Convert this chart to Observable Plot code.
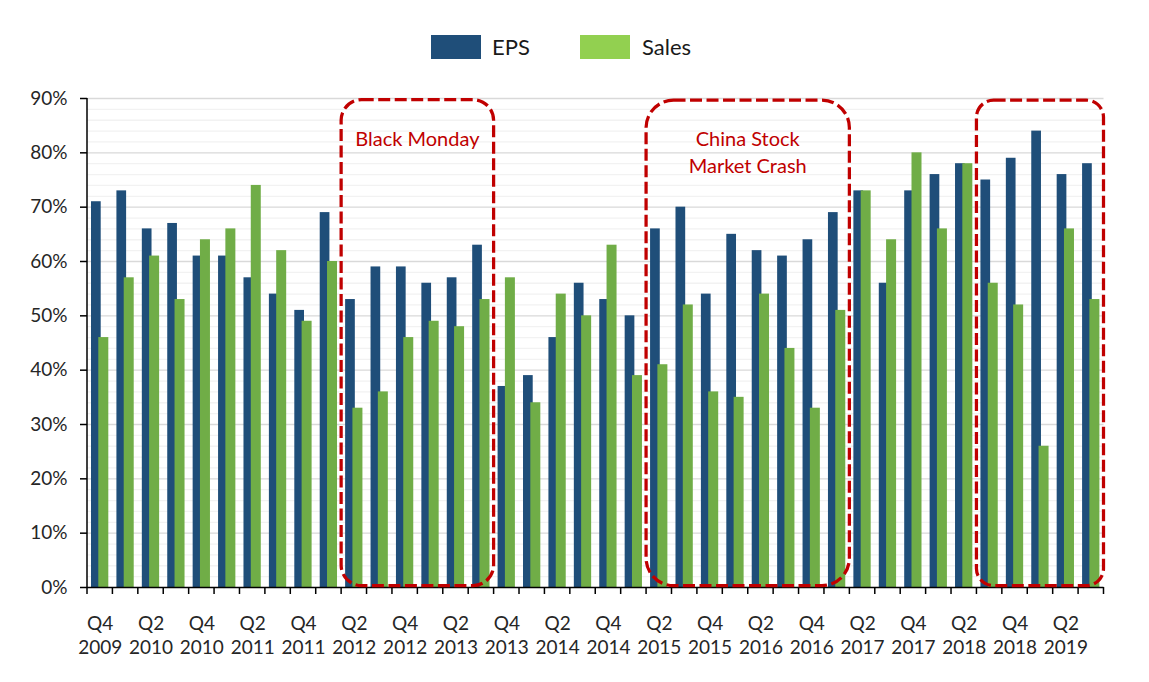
<!DOCTYPE html>
<html>
<head>
<meta charset="utf-8">
<script src="https://cdn.jsdelivr.net/npm/d3@7"></script>
<script src="https://cdn.jsdelivr.net/npm/@observablehq/plot@0.6"></script>
<style>
  html, body { margin: 0; padding: 0; background: #fff; }
  body { font-family: Lato, "Open Sans", sans-serif; width: 1149px; }
  #legend { position: relative; height: 80px; }
  #legend .sw { position: absolute; top: 35px; width: 50px; height: 24px; }
  #legend .lb { position: absolute; top: 34.5px; font-size: 22px; line-height: 24px; color: #1a1a1a; }
  #chart svg { display: block; }
</style>
</head>
<body>
<div id="legend"></div>
<div id="chart"></div>
<script>
// ---- data ----
const quarters = [
  "Q4 2009","Q1 2010","Q2 2010","Q3 2010","Q4 2010","Q1 2011","Q2 2011","Q3 2011",
  "Q4 2011","Q1 2012","Q2 2012","Q3 2012","Q4 2012","Q1 2013","Q2 2013","Q3 2013",
  "Q4 2013","Q1 2014","Q2 2014","Q3 2014","Q4 2014","Q1 2015","Q2 2015","Q3 2015",
  "Q4 2015","Q1 2016","Q2 2016","Q3 2016","Q4 2016","Q1 2017","Q2 2017","Q3 2017",
  "Q4 2017","Q1 2018","Q2 2018","Q3 2018","Q4 2018","Q1 2019","Q2 2019","Q3 2019"
];
const eps = [71,73,66,67,61,61,57,54,51,69,53,59,59,56,57,63,37,39,46,56,53,50,66,70,54,65,62,61,64,69,73,56,73,76,78,75,79,84,76,78];
const sales = [46,57,61,53,64,66,74,62,49,60,33,36,46,49,48,53,57,34,54,50,63,39,41,52,36,35,54,44,33,51,73,64,80,66,78,56,52,26,66,53];
const seriesNames = ["EPS", "Sales"];
const yTicks = [0,10,20,30,40,50,60,70,80,90];
const annotations = [
  {from: "Q2 2012", to: "Q3 2013", top: 89.7, bottom: 0.25, lines: ["Black Monday"]},
  {from: "Q2 2015", to: "Q1 2017", top: 89.6, bottom: 0.25, lines: ["China Stock", "Market Crash"]},
  {from: "Q3 2018", to: "Q3 2019", top: 89.6, bottom: 0.25, lines: []}
];

// ---- styles ----
const EPS_COLOR = "#1F4E79", SALES_COLOR = "#70AD47", SALES_LEGEND = "#92D050", RED = "#C00000";
const W = 1149, H = 602, ML = 87, MR = 45.5, MT = 18, MB = 95;
const bw = (W - ML - MR) / quarters.length;

// ---- legend ----
const legend = document.getElementById("legend");
const legendItems = [
  {name: seriesNames[0], color: EPS_COLOR, sx: 431, tx: 492},
  {name: seriesNames[1], color: SALES_LEGEND, sx: 580, tx: 642}
];
for (const it of legendItems) {
  const s = document.createElement("div");
  s.className = "sw"; s.style.left = it.sx + "px"; s.style.background = it.color;
  legend.appendChild(s);
  const t = document.createElement("div");
  t.className = "lb"; t.style.left = it.tx + "px"; t.textContent = it.name;
  legend.appendChild(t);
}

// ---- chart ----
const table = quarters.map((q, i) => ({q, eps: eps[i], sales: sales[i]}));
const labelled = new Set(quarters.filter((q, i) => i % 2 === 0));
const minor = d3.range(2, 90, 2).filter(v => v % 10 !== 0);
const major = yTicks.filter(v => v > 0);

const plot = Plot.plot({
  width: W, height: H,
  marginLeft: ML, marginRight: MR, marginTop: MT, marginBottom: MB,
  style: {fontFamily: "Lato, 'Open Sans', sans-serif", fontSize: "19px", color: "#262626", background: "white", overflow: "visible"},
  x: {type: "band", domain: quarters, padding: 0, round: false},
  y: {domain: [0, 90]},
  marks: [
    Plot.ruleY(minor, {stroke: "#F2F2F2", strokeWidth: 1.3}),
    Plot.ruleY(major, {stroke: "#D9D9D9", strokeWidth: 1.3}),
    Plot.barY(table, {x: "q", y: "eps", fill: EPS_COLOR, insetLeft: 4, insetRight: bw - 13.7}),
    Plot.barY(table, {x: "q", y: "sales", fill: SALES_COLOR, insetLeft: 11.3, insetRight: bw - 21.3}),
    Plot.ruleY([0], {stroke: "black", strokeWidth: 1.5}),
    Plot.axisY({ticks: yTicks, tickSize: 7, tickPadding: 13, strokeWidth: 1.5, stroke: "black",
      tickFormat: d => d + "%", fontSize: 19, label: null}),
    Plot.axisX({tickSize: 0, tickPadding: 25, fontSize: 19, lineHeight: 1.27, label: null,
      tickFormat: d => labelled.has(d) ? d.replace(" ", "\n") : ""})
  ]
});
document.getElementById("chart").appendChild(plot);

// ---- extras drawn from the plot's own scales ----
const xs = plot.scale("x"), ys = plot.scale("y");
const svg = d3.select(plot);
const band = xs.bandwidth;
const y0 = ys.apply(0);

// y axis line
svg.append("line")
  .attr("x1", xs.apply(quarters[0])).attr("x2", xs.apply(quarters[0]))
  .attr("y1", ys.apply(90)).attr("y2", y0)
  .attr("stroke", "black").attr("stroke-width", 1.5);

// x boundary ticks
const bounds = quarters.map(q => xs.apply(q)).concat([xs.apply(quarters[quarters.length - 1]) + band]);
svg.append("g").selectAll("line").data(bounds).join("line")
  .attr("x1", d => d).attr("x2", d => d)
  .attr("y1", y0).attr("y2", y0 + 7)
  .attr("stroke", "black").attr("stroke-width", 1.5);

// annotations
const ag = svg.append("g");
for (const a of annotations) {
  const x1 = xs.apply(a.from), x2 = xs.apply(a.to) + band;
  const y1 = ys.apply(a.top), y2 = ys.apply(a.bottom);
  const r = 0.135 * (x2 - x1);
  const d = `M${x1 + r},${y1}H${x2 - r}A${r},${r} 0 0 1 ${x2},${y1 + r}V${y2 - r}` +
            `A${r},${r} 0 0 1 ${x2 - r},${y2}H${x1 + r}A${r},${r} 0 0 1 ${x1},${y2 - r}` +
            `V${y1 + r}A${r},${r} 0 0 1 ${x1 + r},${y1}Z`;
  ag.append("path").attr("d", d).attr("fill", "none").attr("stroke", RED)
    .attr("stroke-width", 3.25).attr("stroke-dasharray", "12,4.5");
  a.lines.forEach((line, i) => {
    ag.append("text").attr("x", (x1 + x2) / 2).attr("y", y1 + 46 + i * 27)
      .attr("text-anchor", "middle").attr("fill", RED)
      .attr("font-size", 20).attr("font-family", "Lato, 'Open Sans', sans-serif")
      .text(line);
  });
}
</script>
</body>
</html>
